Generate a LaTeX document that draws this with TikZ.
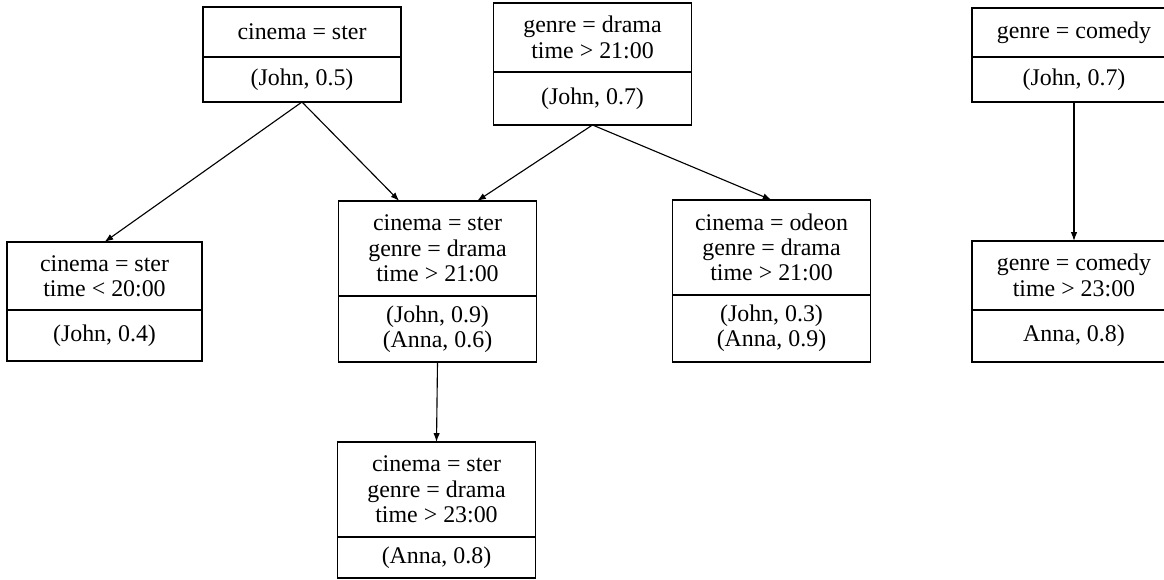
\documentclass[tikz,border=0pt]{standalone}
\usepackage{fontspec}
\setmainfont{Liberation Serif}
\usetikzlibrary{positioning,arrows.meta,calc}

\tikzset{
	box/.style = {draw, line width=1.1pt, outer sep=0pt, inner sep=2pt, minimum width=4.95cm, align=center, font=\fontsize{17}{18}\selectfont},
	arr/.style = {line width=0.8pt, -{Latex[length=2.2mm,width=1.6mm]}}
}

\begin{document}
\begin{tikzpicture}
	\useasboundingbox (0,0) rectangle (29.1,14.5);
	
	% top row
	\node[box, minimum height=1.25cm] (c1) at (7.55, 13.7) {cinema = ster};
	\node[box, minimum height=1.125cm, below=0pt of c1] (r1) {(John, 0.5)};
	
	\node[box, minimum height=1.725cm] (c2) at (14.8125, 13.5625) {genre = drama\\time > 21:00};
	\node[box, minimum height=1.325cm, below=0pt of c2] (r2) {(John, 0.7)};
	
	\node[box, minimum width=5.1cm, minimum height=1.225cm] (c3) at (26.85, 13.6875) {genre = comedy};
	\node[box, minimum width=5.1cm, minimum height=1.125cm, below=0pt of c3] (r3) {(John, 0.7)};
	
	% middle row
	\node[box, minimum width=4.875cm, minimum height=1.7cm] (c4) at (2.6125, 7.6) {cinema = ster\\time < 20:00};
	\node[box, minimum width=4.875cm, minimum height=1.275cm, below=0pt of c4] (r4) {(John, 0.4)};
	
	\node[box, minimum height=2.375cm] (c5) at (10.9375, 8.2875) {cinema = ster\\genre = drama\\time > 21:00};
	\node[box, minimum height=1.65cm, below=0pt of c5] (r5) {(John, 0.9)\\(Anna, 0.6)};
	
	\node[box, minimum height=2.375cm] (c6) at (19.2875, 8.3125) {cinema = odeon\\genre = drama\\time > 21:00};
	\node[box, minimum height=1.675cm, below=0pt of c6] (r6) {(John, 0.3)\\(Anna, 0.9)};
	
	\node[box, minimum width=5.1cm, minimum height=1.725cm] (c7) at (26.85, 7.6125) {genre = comedy\\time > 23:00};
	\node[box, minimum width=5.1cm, minimum height=1.3cm, below=0pt of c7] (r7) {Anna, 0.8)};
	
	% bottom
	\node[box, minimum height=2.375cm] (c8) at (10.9125, 2.2625) {cinema = ster\\genre = drama\\time > 23:00};
	\node[box, minimum height=1.025cm, below=0pt of c8] (r8) {(Anna, 0.8)};
	
	% arrows
	\draw[arr] (r1.south) -- (c4.north);
	\draw[arr] (r1.south) -- ($(c5.north west)!0.307!(c5.north east)$);
	\draw[arr] (r2.south) -- ($(c5.north west)!0.70!(c5.north east)$);
	\draw[arr] (r2.south) -- (c6.north);
	\draw[arr] (r3.south) -- (c7.north);
	\draw[arr] (r5.south) -- (c8.north);
	
\end{tikzpicture}
\end{document}
